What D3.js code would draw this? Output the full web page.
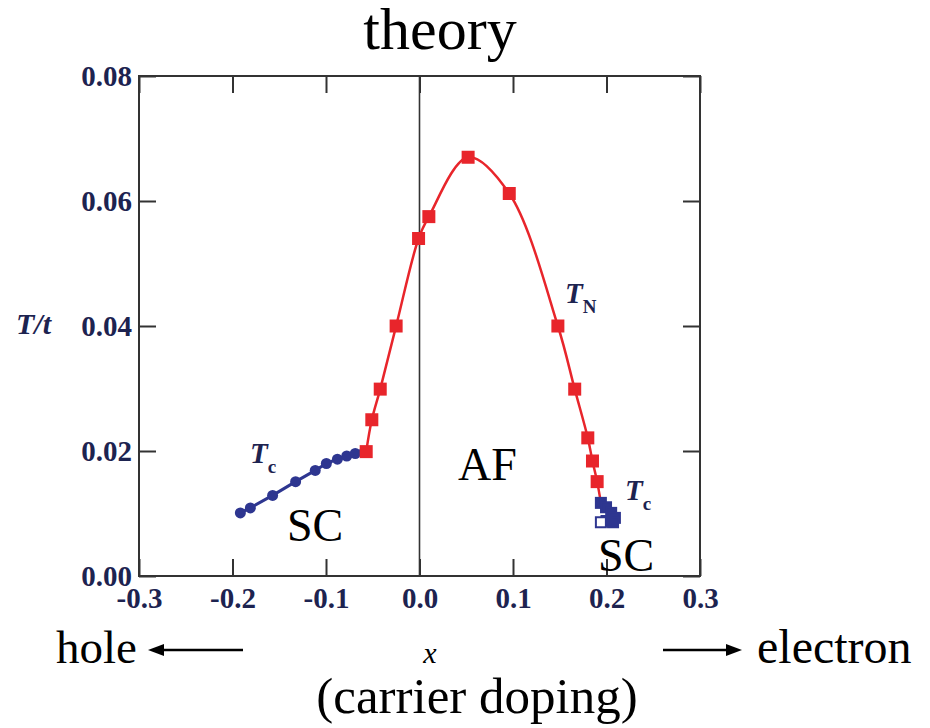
<!DOCTYPE html>
<html>
<head>
<meta charset="utf-8">
<script src="https://cdn.jsdelivr.net/npm/d3@7"></script>
<style>
  body { margin: 0; background: #fff; }
  svg { display: block; }
</style>
</head>
<body>
<div id="chart"></div>
<script>
// T_N (Neel temperature), red squares
const tnX = [-0.057, -0.051, -0.042, -0.025, -0.001, 0.010, 0.052, 0.096, 0.148, 0.166, 0.180, 0.185, 0.190];
const tnY = [0.0199, 0.0250, 0.0299, 0.0400, 0.0540, 0.0575, 0.0670, 0.0612, 0.0400, 0.0299, 0.0221, 0.0184, 0.0151];

// T_c on the hole side, blue circles
const tcHoleX = [-0.1916, -0.1809, -0.1571, -0.1325, -0.1115, -0.0996, -0.0878, -0.0778, -0.0687, -0.0592];
const tcHoleY = [0.0101, 0.0109, 0.0129, 0.0151, 0.0169, 0.0180, 0.0187, 0.0192, 0.0196, 0.0198];

// T_c on the electron side, blue squares (one open)
const tcElecX = [0.194, 0.1995, 0.205, 0.209, 0.207, 0.200, 0.194];
const tcElecY = [0.0117, 0.0110, 0.0101, 0.0093, 0.0086, 0.0088, 0.0086];
const tcElecOpen = [false, false, false, false, false, false, true];

const xTicks = [-0.3, -0.2, -0.1, 0.0, 0.1, 0.2, 0.3];
const yTicks = [0.00, 0.02, 0.04, 0.06, 0.08];

const width = 930, height = 728;
const plotL = 139, plotR = 700, plotT = 76, plotB = 576;

const red = "#e8252b";
const blue = "#2e3690";
const ink = "#1d2350";
const serif = "'Liberation Serif', 'Times New Roman', serif";

const svg = d3.select("#chart").append("svg")
    .attr("width", width)
    .attr("height", height)
    .style("background", "#fff");

const x = d3.scaleLinear().domain([-0.3, 0.3]).range([plotL, plotR]);
const y = d3.scaleLinear().domain([0, 0.08]).range([plotB, plotT]);

// title
svg.append("text")
    .attr("x", 440).attr("y", 49)
    .attr("text-anchor", "middle")
    .style("font-family", serif)
    .style("font-size", "60px")
    .text("theory");

// axes with inward ticks
const tickLen = 17;
const labelStyle = sel => sel.selectAll("text")
    .style("font-family", serif)
    .style("font-size", "29px")
    .style("font-weight", "bold")
    .attr("fill", ink);

svg.append("g")
    .attr("transform", `translate(0,${plotB})`)
    .call(d3.axisBottom(x).tickValues(xTicks).tickSize(-tickLen).tickPadding(11).tickFormat(d => d.toFixed(1)))
    .call(g => g.select(".domain").remove())
    .call(g => g.selectAll("line").attr("stroke", "#333").attr("stroke-width", 2))
    .call(labelStyle);

svg.append("g")
    .attr("transform", `translate(0,${plotT})`)
    .call(d3.axisTop(x).tickValues(xTicks).tickSize(-tickLen).tickFormat(""))
    .call(g => g.select(".domain").remove())
    .call(g => g.selectAll("line").attr("stroke", "#333").attr("stroke-width", 2));

svg.append("g")
    .attr("transform", `translate(${plotL},0)`)
    .call(d3.axisLeft(y).tickValues(yTicks).tickSize(-tickLen).tickPadding(7).tickFormat(d => d.toFixed(2)))
    .call(g => g.select(".domain").remove())
    .call(g => g.selectAll("line").attr("stroke", "#333").attr("stroke-width", 2))
    .call(labelStyle);

svg.append("g")
    .attr("transform", `translate(${plotR},0)`)
    .call(d3.axisRight(y).tickValues(yTicks).tickSize(-tickLen).tickFormat(""))
    .call(g => g.select(".domain").remove())
    .call(g => g.selectAll("line").attr("stroke", "#333").attr("stroke-width", 2));

// frame
svg.append("rect")
    .attr("x", plotL).attr("y", plotT)
    .attr("width", plotR - plotL).attr("height", plotB - plotT)
    .attr("fill", "none")
    .attr("stroke", "#333")
    .attr("stroke-width", 2);

// x = 0 line
svg.append("line")
    .attr("x1", x(0)).attr("x2", x(0))
    .attr("y1", plotT).attr("y2", plotB)
    .attr("stroke", "#333")
    .attr("stroke-width", 1.6);

// data
const tn = tnX.map((d, i) => ({x: d, y: tnY[i]}));
const tcHole = tcHoleX.map((d, i) => ({x: d, y: tcHoleY[i]}));
const tcElec = tcElecX.map((d, i) => ({x: d, y: tcElecY[i], open: tcElecOpen[i]}));

// T_N curve runs on into the electron-side T_c
const tnLine = tn.concat([tcElec[0]]);
svg.append("path")
    .datum(tnLine)
    .attr("d", d3.line().x(d => x(d.x)).y(d => y(d.y)).curve(d3.curveCatmullRom.alpha(0.5)))
    .attr("fill", "none")
    .attr("stroke", red)
    .attr("stroke-width", 2.5);

svg.append("path")
    .datum(tcHole)
    .attr("d", d3.line().x(d => x(d.x)).y(d => y(d.y)))
    .attr("fill", "none")
    .attr("stroke", blue)
    .attr("stroke-width", 3);

svg.append("g")
    .selectAll("circle")
    .data(tcHole)
    .enter()
    .append("circle")
    .attr("cx", d => x(d.x))
    .attr("cy", d => y(d.y))
    .attr("r", 5.5)
    .attr("fill", blue);

svg.append("g")
    .selectAll("rect")
    .data(tcElec)
    .enter()
    .append("rect")
    .attr("x", d => x(d.x) - 5)
    .attr("y", d => y(d.y) - 5)
    .attr("width", 10)
    .attr("height", 10)
    .attr("fill", d => d.open ? "#fff" : blue)
    .attr("stroke", blue)
    .attr("stroke-width", 2);

const sq = 13;
svg.append("g")
    .selectAll("rect")
    .data(tn)
    .enter()
    .append("rect")
    .attr("x", d => x(d.x) - sq / 2)
    .attr("y", d => y(d.y) - sq / 2)
    .attr("width", sq)
    .attr("height", sq)
    .attr("fill", red);

// labels inside the plot
function bigText(tx, ty, str, size) {
    svg.append("text")
        .attr("x", tx).attr("y", ty)
        .style("font-family", serif)
        .style("font-size", size + "px")
        .text(str);
}
bigText(458, 480, "AF", 46);
bigText(287, 541, "SC", 46);
bigText(598, 571, "SC", 46);

function subLabel(tx, ty, main, sub) {
    const t = svg.append("text")
        .attr("x", tx).attr("y", ty)
        .style("font-family", serif)
        .style("font-weight", "bold")
        .attr("fill", ink);
    t.append("tspan").style("font-style", "italic").style("font-size", "29px").text(main);
    t.append("tspan").attr("dy", 10).style("font-size", "19px").text(sub);
}
subLabel(250, 463, "T", "c");
subLabel(625, 500, "T", "c");
subLabel(565, 303, "T", "N");

// y axis title
svg.append("text")
    .attr("x", 16).attr("y", 334)
    .style("font-family", serif)
    .style("font-weight", "bold")
    .style("font-style", "italic")
    .style("font-size", "30px")
    .attr("fill", ink)
    .text("T/t");

// x axis labels below
bigText(56, 663, "hole", 47);
bigText(757, 663, "electron", 48);
svg.append("text")
    .attr("x", 430).attr("y", 663)
    .attr("text-anchor", "middle")
    .style("font-family", serif)
    .style("font-style", "italic")
    .style("font-size", "30px")
    .text("x");
svg.append("text")
    .attr("x", 477).attr("y", 713)
    .attr("text-anchor", "middle")
    .style("font-family", serif)
    .style("font-size", "51px")
    .text("(carrier doping)");

// arrows
function arrow(x1, x2, ay) {
    const dir = Math.sign(x2 - x1);
    svg.append("line")
        .attr("x1", x1).attr("x2", x2 - dir * 12)
        .attr("y1", ay).attr("y2", ay)
        .attr("stroke", "#000")
        .attr("stroke-width", 2.5);
    svg.append("path")
        .attr("d", `M${x2},${ay} L${x2 - dir * 16},${ay - 6} L${x2 - dir * 16},${ay + 6} Z`)
        .attr("fill", "#000");
}
arrow(243, 148, 650);
arrow(663, 742, 650);
</script>
</body>
</html>
